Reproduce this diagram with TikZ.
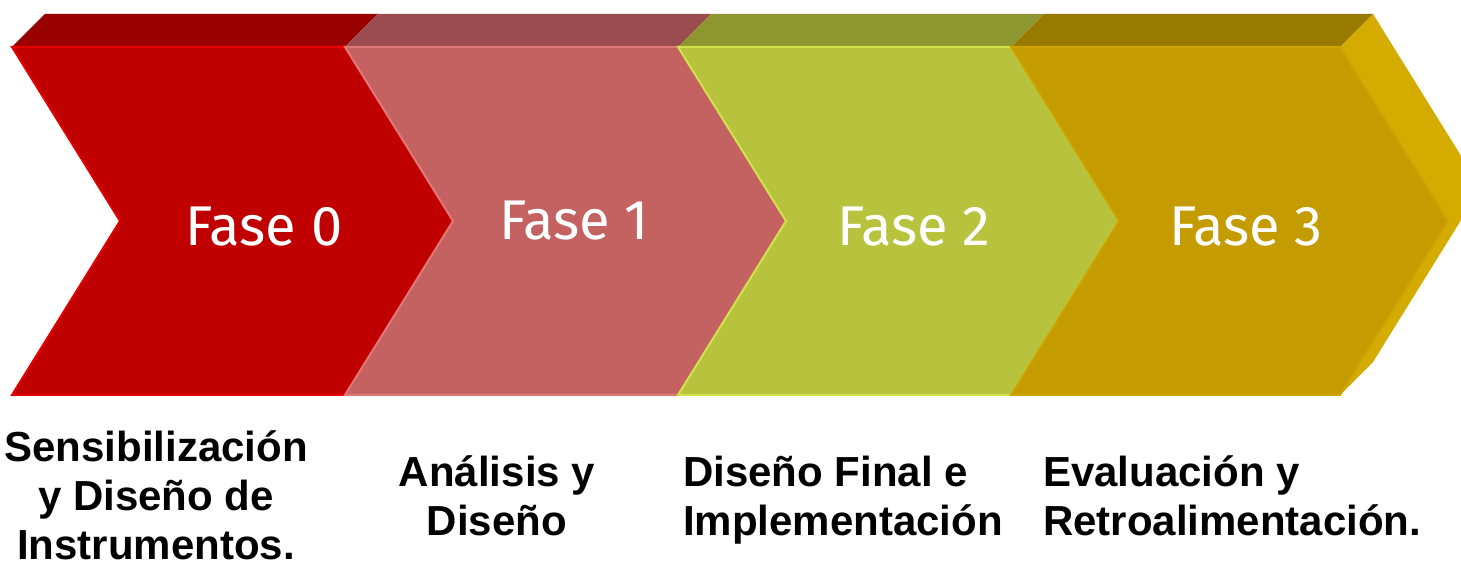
\documentclass[tikz,border=0pt]{standalone}
\usepackage{fontspec}
\newfontfamily\fasefont{Fira Sans}
\newfontfamily\etiqfont{Liberation Sans}
\definecolor{rojo}{HTML}{C00000}
\definecolor{rojoT}{HTML}{990000}
\definecolor{rojoB}{HTML}{E60000}
\definecolor{rosa}{HTML}{C46262}
\definecolor{rosaT}{HTML}{9A4C4E}
\definecolor{rosaB}{HTML}{E07878}
\definecolor{verde}{HTML}{B7C33D}
\definecolor{verdeT}{HTML}{8E962F}
\definecolor{verdeB}{HTML}{D2E04C}
\definecolor{oro}{HTML}{C49C00}
\definecolor{oroT}{HTML}{987A00}
\definecolor{oroB}{HTML}{CDA300}
\definecolor{oroL}{HTML}{D4AC00}
\begin{document}
\begin{tikzpicture}[x=1pt,y=1pt,
	fase/.style={text=white,font=\fasefont\fontsize{56}{60}\selectfont,inner sep=0pt},
	etiqueta/.style={font=\etiqfont\bfseries\fontsize{42}{49}\selectfont,inner sep=0pt},
	frente/.style={line width=2pt,line join=miter}]
	\useasboundingbox (0,0) rectangle (1461,567);
	\clip (0,0) rectangle (1461,567);

	\fill[rojoT] (12,520)--(45,553)--(378,553)--(345,520)--cycle;
	\fill[rosaT] (345,520)--(378,553)--(711,553)--(678,520)--cycle;
	\fill[verdeT] (678,520)--(711,553)--(1044,553)--(1011,520)--cycle;
	\fill[oroT] (1011,520)--(1044,553)--(1373,553)--(1340,520)--cycle;
	\fill[oroL] (1340,520)--(1373,553)--(1481,379)--(1373,205)--(1340,172)--(1448,346)--cycle;

	\draw[frente,draw=rojoB,fill=rojo] (12,520)--(345,520)--(453,346)--(345,172)--(12,172)--(120,346)--cycle;
	\draw[frente,draw=rosaB,fill=rosa] (345,520)--(678,520)--(786,346)--(678,172)--(345,172)--(453,346)--cycle;
	\draw[frente,draw=verdeB,fill=verde] (678,520)--(1011,520)--(1119,346)--(1011,172)--(678,172)--(786,346)--cycle;
	\draw[frente,draw=oroB,fill=oro] (1011,520)--(1340,520)--(1448,346)--(1340,172)--(1011,172)--(1119,346)--cycle;

	\node[fase,anchor=base] (f0) at (264,321) {Fase 0};
	\node[fase,anchor=base] (f1) at (574,327) {Fase 1};
	\node[fase,anchor=base] (f2) at (914,321) {Fase 2};
	\node[fase,anchor=base] (f3) at (1246,321) {Fase 3};

	\node[etiqueta,align=center,anchor=base] (e0) at (156,7) {Sensibilización\\y Diseño de\\Instrumentos.};
	\node[etiqueta,align=center,anchor=base] (e1) at (497,31) {Análisis y\\Diseño};
	\node[etiqueta,align=left,anchor=base west] (e2) at (683,31) {Diseño Final e\\Implementación};
	\node[etiqueta,align=left,anchor=base west] (e3) at (1043,31) {Evaluación y\\Retroalimentación.};
\end{tikzpicture}
\end{document}
